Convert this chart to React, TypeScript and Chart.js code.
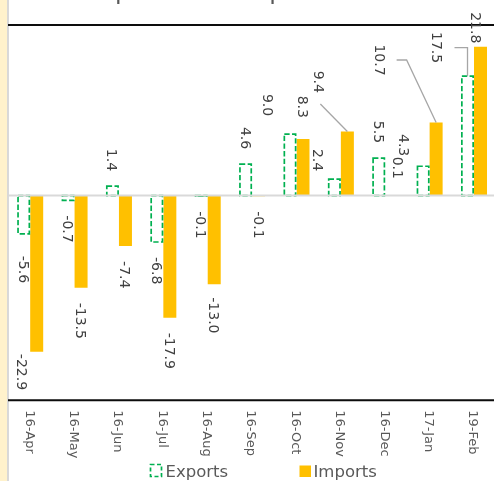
import React, { useEffect, useRef } from "react";
import { Chart, registerables } from "chart.js";

Chart.register(...registerables);

// ---------- data ----------
const categories = ["16-Apr", "16-May", "16-Jun", "16-Jul", "16-Aug", "16-Sep", "16-Oct", "16-Nov", "16-Dec", "17-Jan", "19-Feb"];
const exportsValues = [-5.6, -0.7, 1.4, -6.8, -0.1, 4.6, 9.0, 2.4, 5.5, 4.3, 17.5];
const importsValues = [-22.9, -13.5, -7.4, -17.9, -13.0, -0.1, 8.3, 9.4, 0.1, 10.7, 21.8];
const seriesNames = ["Exports", "Imports"];
const chartTitle = "Exports and Imports";
const yMin = -30;
const yMax = 25;

// ---------- styling / layout ----------
const FONT = '"DejaVu Sans"';
const GOLD = "#FFC000";
const GREEN = "#00B050";
const LABEL_COLOR = "#404040";
const AXIS_TEXT = "#595959";

// manual nudges of data labels (px), keyed "dataset-index"
type Adj = { dx: number; dy: number; leader?: "diag" | "elbow" };
const LABEL_ADJ: Record<string, Adj> = {
  "0-0": { dx: 0, dy: 7 },
  "0-6": { dx: -22, dy: -3 },
  "0-7": { dx: -16, dy: 7 },
  "0-9": { dx: -19, dy: 5 },
  "0-10": { dx: -30, dy: 2, leader: "elbow" },
  "1-0": { dx: -14.5, dy: -13 },
  "1-4": { dx: 0, dy: -2 },
  "1-6": { dx: 0, dy: -6 },
  "1-7": { dx: -28, dy: -23.5, leader: "diag" },
  "1-8": { dx: 6, dy: -1 },
  "1-9": { dx: -56.5, dy: -32, leader: "elbow" },
  "1-10": { dx: -4, dy: 11.5 },
};

function fmt(v: number) {
  return v.toFixed(1);
}

function drawRotated(ctx: CanvasRenderingContext2D, text: string, x: number, y: number, align: CanvasTextAlign, size: number) {
  ctx.save();
  ctx.translate(x, y);
  ctx.rotate(Math.PI / 2);
  ctx.textAlign = align;
  ctx.textBaseline = "alphabetic";
  ctx.fillText(text, 0, 0.36 * size);
  ctx.restore();
}

const customPlugin = {
  id: "customDecor",
  beforeDraw(chart: any) {
    const { ctx, width, height } = chart;
    ctx.save();
    ctx.fillStyle = "#FFFFFF";
    ctx.fillRect(0, 0, width, height);
    ctx.fillStyle = "#FFF2CC";
    ctx.fillRect(0, 0, 7, height);
    ctx.restore();
  },
  afterDatasetsDraw(chart: any) {
    const { ctx, chartArea, width, height } = chart;
    const yScale = chart.scales.y;
    const xScale = chart.scales.x;
    ctx.save();

    // dashed outline of Exports bars
    const meta0 = chart.getDatasetMeta(0);
    ctx.strokeStyle = GREEN;
    ctx.lineWidth = 1.7;
    ctx.setLineDash([5.3, 2.4]);
    meta0.data.forEach((bar: any) => {
      const p = bar.getProps(["x", "y", "base", "width"], true);
      const left = p.x - p.width / 2 + 0.85;
      const right = p.x + p.width / 2 - 0.85;
      const top = Math.min(p.y, p.base);
      const bottom = Math.max(p.y, p.base);
      ctx.strokeRect(left, top, right - left, bottom - top);
    });
    ctx.setLineDash([]);

    // vertical gray line at left
    ctx.strokeStyle = "#C4C4C4";
    ctx.lineWidth = 1.3;
    ctx.beginPath();
    ctx.moveTo(chartArea.left, 0);
    ctx.lineTo(chartArea.left, height);
    ctx.stroke();

    // zero line
    const y0 = yScale.getPixelForValue(0);
    ctx.strokeStyle = "#D9D9D9";
    ctx.lineWidth = 2;
    ctx.beginPath();
    ctx.moveTo(chartArea.left, y0);
    ctx.lineTo(width, y0);
    ctx.stroke();

    // top & bottom black border lines
    ctx.strokeStyle = "#0D0D0D";
    ctx.lineWidth = 2;
    ctx.beginPath();
    ctx.moveTo(chartArea.left, chartArea.top);
    ctx.lineTo(width, chartArea.top);
    ctx.moveTo(chartArea.left, chartArea.bottom);
    ctx.lineTo(width, chartArea.bottom);
    ctx.stroke();

    // title (clipped above the canvas top)
    ctx.font = `100px ${FONT}`;
    const wEx = ctx.measureText("Ex").width;
    const wIm = ctx.measureText("Exports and Im").width;
    const tf = (100 * 154.4) / (wIm - wEx);
    ctx.font = `${tf}px ${FONT}`;
    const tx = 117.3 - 0.091 * tf - ctx.measureText("Ex").width;
    ctx.fillStyle = AXIS_TEXT;
    ctx.textAlign = "left";
    ctx.textBaseline = "alphabetic";
    ctx.fillText(chartTitle, tx, -0.8);

    // data labels
    const LS = 14;
    ctx.font = `${LS}px ${FONT}`;
    [0, 1].forEach((di) => {
      const meta = chart.getDatasetMeta(di);
      const values = chart.data.datasets[di].data as number[];
      meta.data.forEach((bar: any, i: number) => {
        const v = values[i];
        const p = bar.getProps(["x", "y", "base"], true);
        const adj = LABEL_ADJ[`${di}-${i}`] || { dx: 0, dy: 0 };
        const text = fmt(v);
        const tw = ctx.measureText(text).width;
        const lx = p.x + adj.dx;
        let anchorY: number;
        let align: CanvasTextAlign;
        let startY: number;
        let endY: number;
        if (v >= 0) {
          anchorY = p.y - 15 + adj.dy;
          align = "right";
          endY = anchorY;
          startY = anchorY - tw;
        } else {
          anchorY = p.y + 15 + adj.dy;
          align = "left";
          startY = anchorY;
          endY = anchorY + tw;
        }
        ctx.fillStyle = LABEL_COLOR;
        drawRotated(ctx, text, lx, anchorY, align, LS);

        if (adj.leader) {
          ctx.strokeStyle = "#A6A6A6";
          ctx.lineWidth = 1.3;
          ctx.beginPath();
          if (adj.leader === "diag") {
            ctx.moveTo(lx + 1, endY + 11);
            ctx.lineTo(p.x, p.y);
          } else {
            const midY = (startY + endY) / 2;
            const sx = lx + 17;
            const ex = p.x - sx < 16 ? p.x : sx + 10;
            ctx.moveTo(sx, midY);
            ctx.lineTo(ex, midY);
            ctx.lineTo(p.x, p.y);
          }
          ctx.stroke();
        }
      });
    });

    // x tick labels (rotated clockwise)
    const TS = 13;
    ctx.font = `${TS}px ${FONT}`;
    ctx.fillStyle = AXIS_TEXT;
    (chart.data.labels as string[]).forEach((lab, i) => {
      const x = xScale.getPixelForValue(i);
      drawRotated(ctx, lab, x, chartArea.bottom + 10, "left", TS);
    });

    // legend
    const FS = 16.5;
    ctx.font = `${FS}px ${FONT}`;
    ctx.textAlign = "left";
    ctx.textBaseline = "alphabetic";
    ctx.fillStyle = "#FFFFFF";
    ctx.fillRect(150.5, 464.5, 11, 12);
    ctx.strokeStyle = GREEN;
    ctx.lineWidth = 1.7;
    ctx.setLineDash([4, 2.5]);
    ctx.strokeRect(150.5, 464.5, 11, 12);
    ctx.setLineDash([]);
    ctx.fillStyle = AXIS_TEXT;
    ctx.fillText(seriesNames[0], 165.5, 477);
    ctx.fillStyle = GOLD;
    ctx.fillRect(299.5, 465.5, 11.5, 11.5);
    ctx.fillStyle = AXIS_TEXT;
    ctx.fillText(seriesNames[1], 313.5, 477);

    ctx.restore();
  },
};

export default function App() {
  const canvasRef = useRef<HTMLCanvasElement | null>(null);

  useEffect(() => {
    document.body.style.margin = "0";
    const canvas = canvasRef.current;
    if (!canvas) return;
    const chart = new Chart(canvas, {
      type: "bar",
      data: {
        labels: categories,
        datasets: [
          { label: seriesNames[0], data: exportsValues, backgroundColor: "#FFFFFF", borderWidth: 0 },
          { label: seriesNames[1], data: importsValues, backgroundColor: GOLD, borderWidth: 0 },
        ],
      },
      options: {
        responsive: false,
        animation: false,
        devicePixelRatio: 1,
        events: [],
        layout: { padding: { left: 8, top: 25, right: 1.8, bottom: 80.7 } },
        datasets: { bar: { categoryPercentage: 26 / 44.38, barPercentage: 1 } },
        plugins: {
          legend: { display: false },
          tooltip: { enabled: false },
          title: { display: false },
        },
        scales: {
          x: { display: false, offset: true },
          y: { display: false, min: yMin, max: yMax },
        },
      } as any,
      plugins: [customPlugin as any],
    });
    return () => chart.destroy();
  }, []);

  return (
    <div style={{ width: 494, height: 481, overflow: "hidden", position: "relative" }}>
      <canvas ref={canvasRef} width={498} height={481} style={{ display: "block", width: 498, height: 481 }} />
    </div>
  );
}
